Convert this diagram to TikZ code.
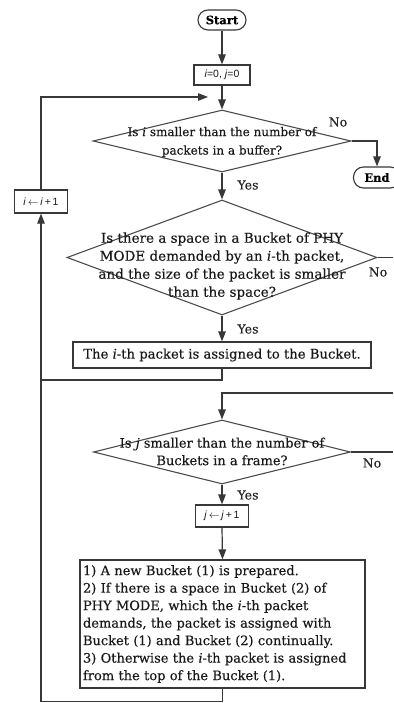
\documentclass[tikz,border=0pt]{standalone}
\usepackage{fontspec}
\setmainfont{DejaVu Serif}[FakeBold=0.3]
\newfontfamily\sansf{Liberation Sans}
\usetikzlibrary{shapes.geometric,arrows.meta}
\begin{document}
\begin{tikzpicture}[x=1pt,y=-1pt,
  line/.style={draw=black!78, line width=1.2pt},
  arr/.style={line, -{Triangle[length=10pt,width=7.5pt]}},
  boxn/.style={draw=black!78, line width=1.2pt, rectangle, inner sep=0pt, text=black!90},
  dia/.style={draw=black!70, line width=1.1pt, diamond, inner sep=0pt},
  txt/.style={font=\fontsize{13}{17.5}\selectfont, align=center, inner sep=0pt, text=black!90},
  lab/.style={font=\fontsize{12.5}{14}\selectfont, inner sep=0pt, text=black!85},
  term/.style={draw=black!78, line width=1.1pt, rectangle, rounded corners=10pt, inner sep=0pt, font=\bfseries\fontsize{11.5}{14}\selectfont},
  sansbox/.style={boxn, font=\sansf\fontsize{10.5}{12}\selectfont}
]
\useasboundingbox (0,0) rectangle (393,703);

\node[term, minimum width=48pt, minimum height=20pt] (start) at (222,20) {Start};
\node[sansbox, minimum width=56pt, minimum height=20pt] (init) at (222,75) {\textit{i}=0, \textit{j}=0};
\coordinate (looptip) at (208,97);
\node[dia, minimum width=258pt, minimum height=62pt] (d1) at (222,141) {};
\node[txt, font=\fontsize{12}{18.5}\selectfont] (d1t) at (222,142) {Is \textit{i} smaller than the number of\\packets in a buffer?};
\node[term, minimum width=47pt, minimum height=21pt] (end) at (377,177.5) {End};
\node[sansbox, minimum width=53pt, minimum height=23pt] (inci) at (41,201.5) {\textit{i}\,$\leftarrow$\,\textit{i}\,+\,1};
\node[dia, minimum width=310pt, minimum height=115pt] (d2) at (222,257.5) {};
\node[txt, font=\fontsize{13.5}{18}\selectfont] (d2t) at (222,266) {Is there a space in a Bucket of PHY\\MODE demanded by an \textit{i}-th packet,\\and the size of the packet is smaller\\than the space?};
\coordinate (r2) at (393,257.5);
\node[boxn, minimum width=298pt, minimum height=26pt, font=\fontsize{13.2}{15}\selectfont] (asg) at (222,355) {The \textit{i}-th packet is assigned to the Bucket.};
\coordinate (m1) at (41,380);
\coordinate (r3) at (393,393);
\node[dia, minimum width=257pt, minimum height=64pt] (d3) at (222,452) {};
\node[txt] (d3t) at (222,451.5) {Is \textit{j} smaller than the number of\\Buckets in a frame?};
\coordinate (r4) at (393,452);
\node[sansbox, minimum width=53pt, minimum height=22pt] (incj) at (222,516) {\textit{j}\,$\leftarrow$\,\textit{j}\,+\,1};
\node[boxn, minimum width=285pt, minimum height=128pt, inner xsep=3pt, text width=279pt, align=left, font=\fontsize{13}{17.5}\selectfont] (big) at (222.5,624) {1) A new Bucket (1) is prepared.\\2) If there is a space in Bucket (2) of\\PHY MODE, which the \textit{i}-th packet\\demands, the packet is assigned with\\Bucket (1) and Bucket (2) continually.\\3) Otherwise the \textit{i}-th packet is assigned\\from the top of the Bucket (1).};
\coordinate (b1) at (41,701.5);

\node[lab] (no1) at (338,122) {No};
\node[lab] (yes1) at (248,185) {Yes};
\node[lab] (no2) at (378,272) {No};
\node[lab] (yes2) at (248,329) {Yes};
\node[lab] (no3) at (372,463) {No};
\node[lab] (yes3) at (248,495) {Yes};

\draw[arr] (start) -- (init);
\draw[arr] (init) -- (d1.north);
\draw[arr] (inci.north) |- (looptip);
\draw[arr] (d1.east) -| (end.north);
\draw[arr] (d1.south) -- (d2.north);
\draw[line] (d2.east) -- (r2);
\draw[arr] (d2.south) -- (asg.north);
\draw[line] (asg.south) |- (m1);
\draw[arr] (r3) -| (d3.north);
\draw[line] (d3.east) -- (r4);
\draw[arr] (d3.south) -- (incj.north);
\draw[arr] (incj.south) -- (big.north);
\draw[arr] (big.south) |- (b1) -- (inci.south);
\end{tikzpicture}
\end{document}
